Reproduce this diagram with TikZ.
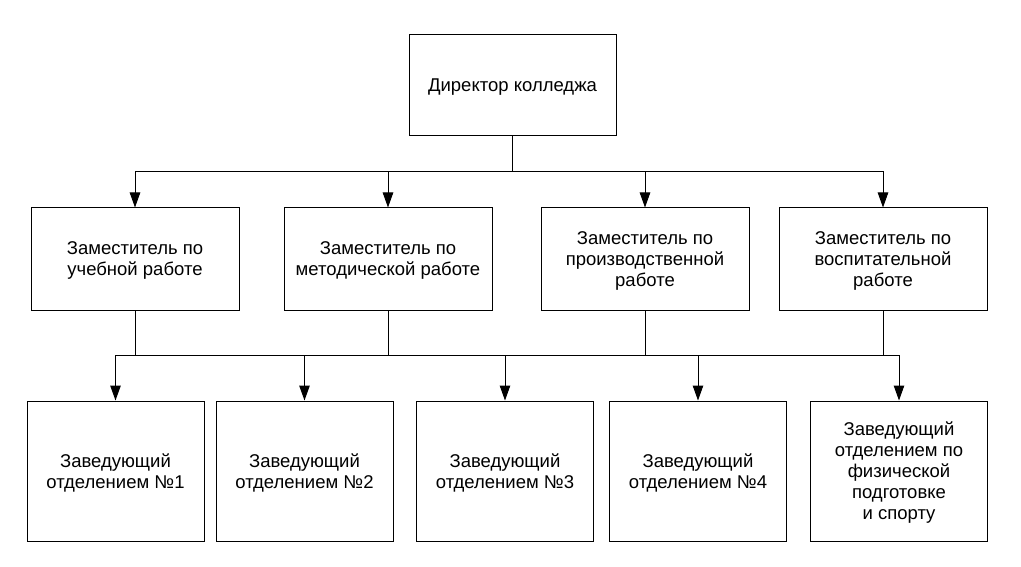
\documentclass[tikz,border=0pt]{standalone}
\usepackage{fontspec}
\setmainfont{Liberation Sans}
\usetikzlibrary{arrows.meta,positioning,shapes}

\begin{document}
\begin{tikzpicture}[x=1pt, y=-1pt,
    box/.style={rectangle, draw, line width=1pt, inner sep=0pt, align=center,
        text depth=-1pt, font=\fontsize{18.5}{21}\selectfont},
    upper/.style={box, minimum width=208pt, minimum height=102pt},
    lower/.style={box, minimum width=177pt, minimum height=140pt},
    arr/.style={-{Triangle[length=15pt, width=10.5pt]}, line width=1pt}]
    \useasboundingbox (0,0) rectangle (1021,567);
    % director
    \node[box, minimum width=207pt, minimum height=101pt] (dir) at (512.5,85.5) {Директор колледжа};
    % deputies
    \node[upper] (zUch) at (135,259) {Заместитель по\\учебной работе};
    \node[upper] (zMet) at (388,259) {Заместитель по\\методической работе};
    \node[upper] (zPro) at (645,259) {Заместитель по\\производственной\\работе};
    \node[upper] (zVos) at (883,259) {Заместитель по\\воспитательной\\работе};
    % heads of departments
    \node[lower] (ot1) at (115.5,471) {Заведующий\\отделением №1};
    \node[lower] (ot2) at (304.5,471) {Заведующий\\отделением №2};
    \node[lower] (ot3) at (505,471) {Заведующий\\отделением №3};
    \node[lower] (ot4) at (698,471) {Заведующий\\отделением №4};
    \node[lower] (ot5) at (899,471) {Заведующий\\отделением по\\физической\\подготовке\\и спорту};
    % connectors
    \coordinate (busA) at (512.5,172);
    \coordinate (busB) at (512.5,355);
    \draw[line width=1pt] (dir.south) -- (busA);
    \draw[arr] (busA) -| (zUch.north);
    \draw[arr] (busA) -| (zMet.north);
    \draw[arr] (busA) -| (zPro.north);
    \draw[arr] (busA) -| (zVos.north);
    \draw[line width=1pt] (zUch.south) -- (zUch.south |- busB);
    \draw[line width=1pt] (zMet.south) -- (zMet.south |- busB);
    \draw[line width=1pt] (zPro.south) -- (zPro.south |- busB);
    \draw[line width=1pt] (zVos.south) -- (zVos.south |- busB);
    \draw[line width=1pt] (ot1.north |- busB) -- (ot5.north |- busB);
    \draw[arr] (ot1.north |- busB) -- (ot1.north);
    \draw[arr] (ot2.north |- busB) -- (ot2.north);
    \draw[arr] (ot3.north |- busB) -- (ot3.north);
    \draw[arr] (ot4.north |- busB) -- (ot4.north);
    \draw[arr] (ot5.north |- busB) -- (ot5.north);
\end{tikzpicture}
\end{document}
